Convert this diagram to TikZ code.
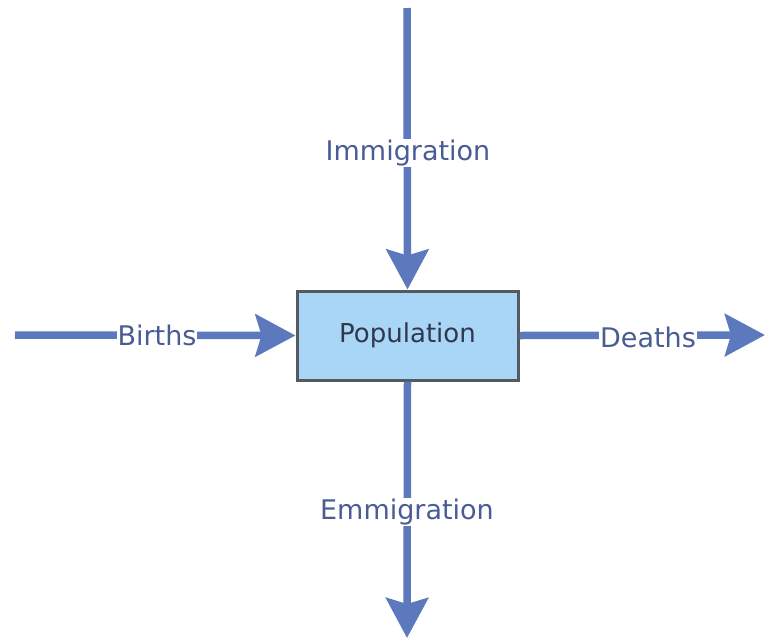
\documentclass[tikz,border=0pt]{standalone}
\usepackage{fontspec}
\setmainfont{DejaVu Sans}
\usetikzlibrary{arrows.meta}
\definecolor{flow}{HTML}{5B79BC}
\definecolor{flowtext}{HTML}{4A5C94}
\definecolor{stockfill}{HTML}{A9D5F6}
\definecolor{stockdraw}{HTML}{565A60}
\definecolor{stocktext}{HTML}{2E3A4C}
\tikzset{
  flowline/.style={draw=flow, line width=7.5pt,
    -{Stealth[length=40pt, width=42pt, inset=6pt]}},
  flowlabel/.style={fill=white, text=flowtext, inner sep=1pt, font=\fontsize{27}{30}\selectfont},
  stock/.style={draw=stockdraw, line width=3pt, fill=stockfill, text=stocktext,
    minimum width=221pt, minimum height=89pt, font=\fontsize{26}{30}\selectfont}
}
\begin{document}
\begin{tikzpicture}[x=1pt, y=-1pt]
\useasboundingbox (0,0) rectangle (765,640);
% stock
\node[stock] (pop) at (407.5,335.5) {Population};
% free ends of the flows
\coordinate (srcTop) at (407,8);
\coordinate (srcLeft) at (15,335);
\coordinate (sinkRight) at (765,335);
\coordinate (sinkBottom) at (407,638);
% flows
\draw[flowline] (srcTop) -- (pop.north);
\draw[flowline] (srcLeft) -- (pop.west);
\draw[flowline] (pop.east) -- (sinkRight);
\draw[flowline] (pop.south) -- (sinkBottom);
% flow labels
\node[flowlabel] (imm) at (408,153) {Immigration};
\node[flowlabel] (bir) at (157,335) {Births};
\node[flowlabel] (dea) at (648,337) {Deaths};
\node[flowlabel] (emm) at (407,512) {Emmigration};
\end{tikzpicture}
\end{document}
